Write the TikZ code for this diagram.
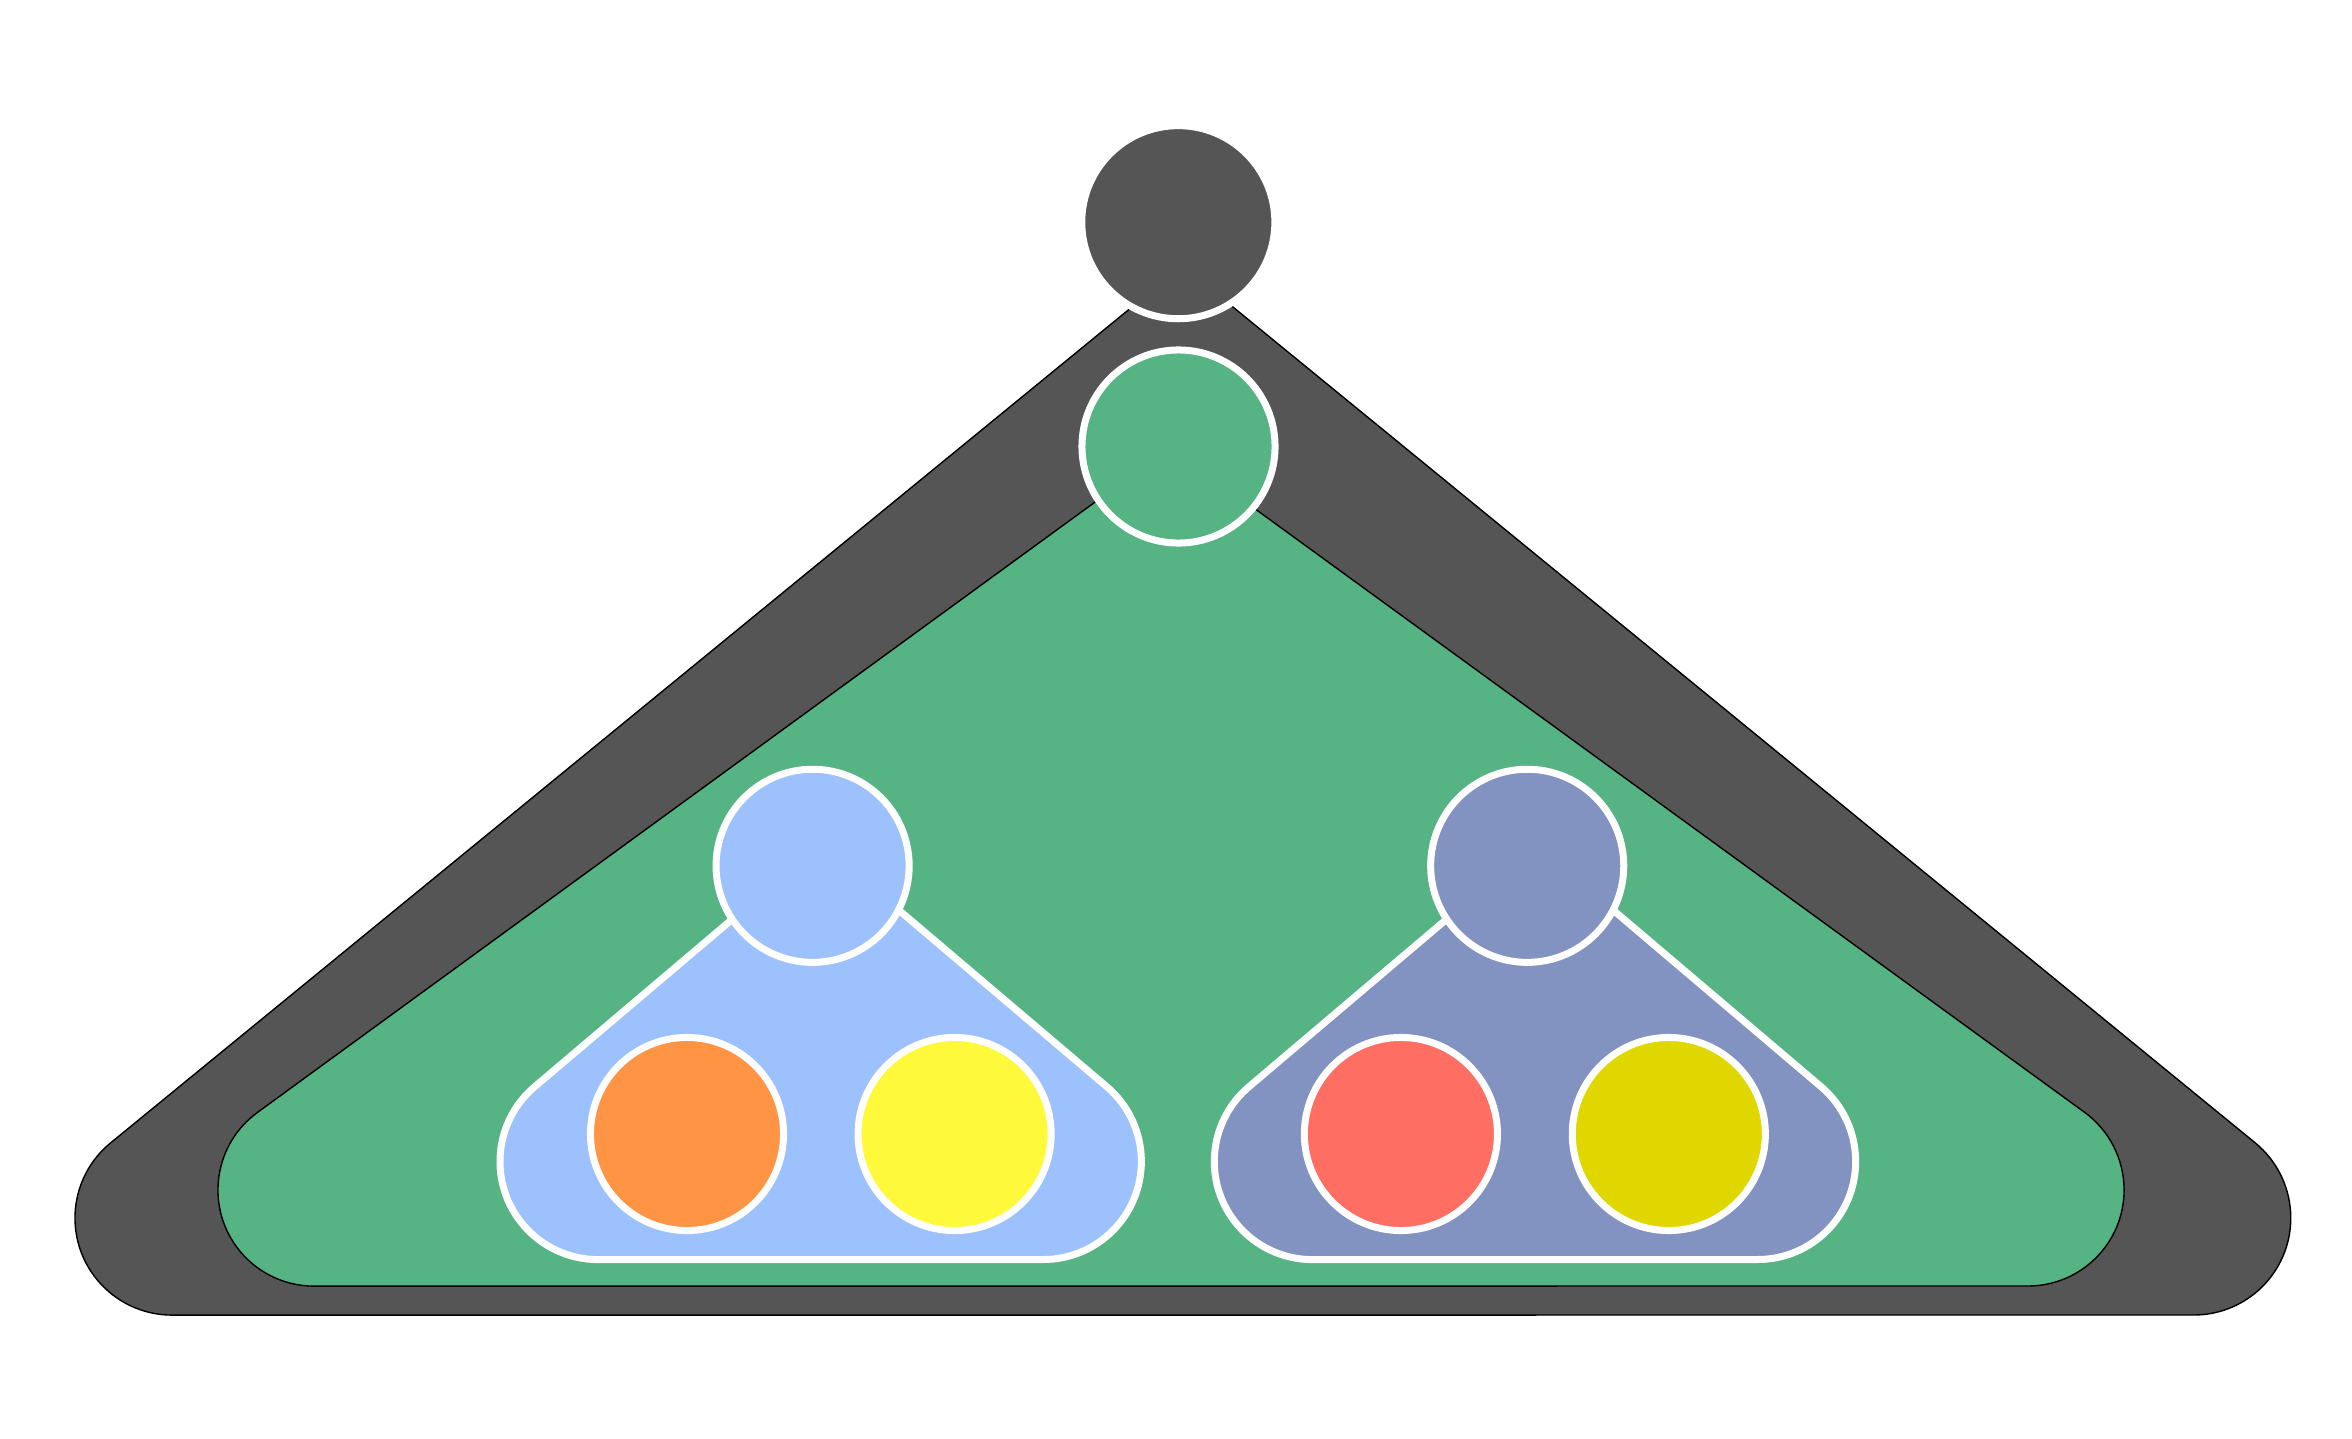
\documentclass[tikz,border=0pt]{standalone}
\definecolor{hullDark}{HTML}{555555}
\definecolor{hullGreen}{HTML}{56B384}
\definecolor{hullBlue}{HTML}{9CC1FD}
\definecolor{hullSlate}{HTML}{8292C1}
\definecolor{leafOrange}{HTML}{FF9444}
\definecolor{leafYellow}{HTML}{FFF93B}
\definecolor{leafRed}{HTML}{FF6E62}
\definecolor{leafOlive}{HTML}{E0D700}
\begin{document}
\begin{tikzpicture}[x=0.01cm,y=0.01cm,
  treenode/.style={circle, inner sep=0pt, outer sep=0pt, minimum size=1.93cm, draw=white, line width=0.07cm},
  outerhull/.style={draw=black, line width=0.4pt, line join=round},
  innerhull/.style={draw=white, line width=0.07cm, line join=round}]
\useasboundingbox (0,0) rectangle (2352,1438);
\fill[white] (0,0) rectangle (2352,1438);
% outer dark hull
\path[outerhull, fill=hullDark] (1182.4,1172.3) -- (110.57,295.08)
  arc[start angle=129.29, end angle=270, radius=0.97cm] -- (2193.7,123)
  arc[start angle=-90, end angle=50.73, radius=0.97cm] -- cycle;
% green hull
\path[outerhull, fill=hullGreen] (1170.3,990.8) -- (257.45,325.58)
  arc[start angle=126.08, end angle=270, radius=0.96cm] -- (2028,152)
  arc[start angle=-90, end angle=53.96, radius=0.96cm] -- cycle;
% root and second level
\node[treenode, fill=hullDark] (root) at (1178.3,1215.8) {};
\node[treenode, fill=hullGreen] (mid) at (1178.5,991.5) {};
% blue hull
\path[innerhull, fill=hullBlue] (821,594) -- (534.63,351.25)
  arc[start angle=130.29, end angle=270, radius=0.98cm] -- (1043.3,178.5)
  arc[start angle=-90, end angle=49.71, radius=0.98cm] -- cycle;
% slate hull
\begin{scope}[shift={(714.3,0)}]
\path[innerhull, fill=hullSlate] (821,594) -- (534.63,351.25)
  arc[start angle=130.29, end angle=270, radius=0.98cm] -- (1043.3,178.5)
  arc[start angle=-90, end angle=49.71, radius=0.98cm] -- cycle;
\end{scope}
\node[treenode, fill=hullBlue] (lb) at (812.6,572.2) {};
\node[treenode, fill=leafOrange] (lb1) at (687,304) {};
\node[treenode, fill=leafYellow] (lb2) at (954.6,304) {};
\node[treenode, fill=hullSlate] (rb) at (1527.2,572.2) {};
\node[treenode, fill=leafRed] (rb1) at (1400.9,304) {};
\node[treenode, fill=leafOlive] (rb2) at (1668.8,304) {};
\end{tikzpicture}
\end{document}
